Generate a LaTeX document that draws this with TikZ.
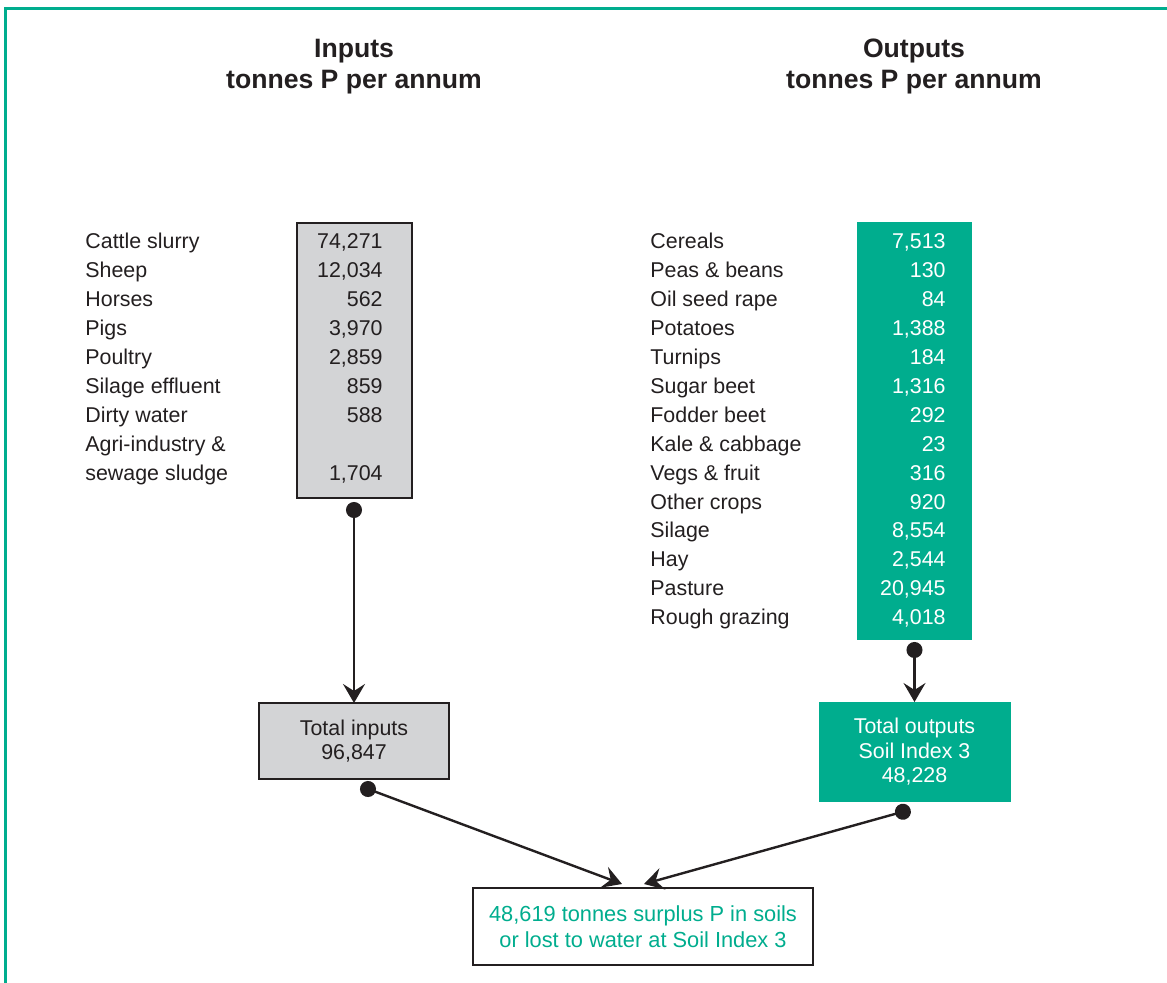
\documentclass[tikz,border=0pt]{standalone}
\usepackage{fontspec}
\setmainfont{Liberation Sans}
\usetikzlibrary{arrows.meta}
\definecolor{pgreen}{RGB}{0,173,142}
\definecolor{ink}{RGB}{35,31,32}
\definecolor{boxgray}{RGB}{211,212,214}
\tikzset{
  title/.style={anchor=base, inner sep=0pt, text=ink, font=\bfseries\fontsize{13.3}{15.5}\selectfont},
  lbl/.style={anchor=base west, inner sep=0pt, text=ink, font=\fontsize{10.7}{12}\selectfont},
  num/.style={anchor=base east, inner sep=0pt, text=ink, font=\fontsize{10.7}{12}\selectfont},
  wnum/.style={num, text=white},
  total/.style={align=center, inner sep=0pt, outer sep=0pt, font=\fontsize{10.7}{12.25}\selectfont},
  flow/.style={draw=ink, line width=1.2pt, {Circle[length=8pt]}-{Stealth[length=9.5pt,width=11pt,inset=3.5pt]}}
}
\begin{document}
\begin{tikzpicture}[x=0.5pt, y=-0.5pt]
\useasboundingbox (0,0) rectangle (1167,983);
\fill[white] (0,0) rectangle (1167,983);
\draw[pgreen, line width=1.35pt] (5.3,983) -- (5.3,8.7) -- (1167,8.7);

\node[title] (intitle) at (354,58) {Inputs};
\node[title] (inunit) at (354,89) {tonnes P per annum};
\node[title] (outtitle) at (914,58) {Outputs};
\node[title] (outunit) at (914,89) {tonnes P per annum};

\node[draw=ink, line width=1pt, fill=boxgray, outer sep=0pt, minimum width=57.5pt, minimum height=137.5pt] (inbox) at (354,360.5) {};
\node[fill=pgreen, outer sep=0pt, minimum width=57.5pt, minimum height=209pt] (outbox) at (914.5,431) {};

\node[lbl] (cattle) at (85,249) {Cattle slurry};
\node[lbl] (sheep) at (85,277.9) {Sheep};
\node[lbl] (horses) at (85,306.8) {Horses};
\node[lbl] (pigs) at (85,335.7) {Pigs};
\node[lbl] (poultry) at (85,364.6) {Poultry};
\node[lbl] (silage) at (85,393.5) {Silage effluent};
\node[lbl] (dirty) at (85,422.4) {Dirty water};
\node[lbl] (agri) at (85,451.3) {Agri-industry \&};
\node[lbl] (sewage) at (85,480.2) {sewage sludge};

\node[num] (ncattle) at (383,249) {74,271};
\node[num] (nsheep) at (383,277.9) {12,034};
\node[num] (nhorses) at (383,306.8) {562};
\node[num] (npigs) at (383,335.7) {3,970};
\node[num] (npoultry) at (383,364.6) {2,859};
\node[num] (nsilage) at (383,393.5) {859};
\node[num] (ndirty) at (383,422.4) {588};
\node[num] (nsewage) at (383,480.2) {1,704};

\node[lbl] (cereals) at (650,249) {Cereals};
\node[lbl] (peas) at (650,277.9) {Peas \& beans};
\node[lbl] (oilseed) at (650,306.8) {Oil seed rape};
\node[lbl] (potatoes) at (650,335.7) {Potatoes};
\node[lbl] (turnips) at (650,364.6) {Turnips};
\node[lbl] (sugarbeet) at (650,393.5) {Sugar beet};
\node[lbl] (fodder) at (650,422.4) {Fodder beet};
\node[lbl] (kale) at (650,451.3) {Kale \& cabbage};
\node[lbl] (vegs) at (650,480.2) {Vegs \& fruit};
\node[lbl] (other) at (650,509.1) {Other crops};
\node[lbl] (silagecrop) at (650,538) {Silage};
\node[lbl] (hay) at (650,566.9) {Hay};
\node[lbl] (pasture) at (650,595.8) {Pasture};
\node[lbl] (rough) at (650,624.7) {Rough grazing};

\node[wnum] (ncereals) at (946,249) {7,513};
\node[wnum] (npeas) at (946,277.9) {130};
\node[wnum] (noilseed) at (946,306.8) {84};
\node[wnum] (npotatoes) at (946,335.7) {1,388};
\node[wnum] (nturnips) at (946,364.6) {184};
\node[wnum] (nsugarbeet) at (946,393.5) {1,316};
\node[wnum] (nfodder) at (946,422.4) {292};
\node[wnum] (nkale) at (946,451.3) {23};
\node[wnum] (nvegs) at (946,480.2) {316};
\node[wnum] (nother) at (946,509.1) {920};
\node[wnum] (nsilagecrop) at (946,538) {8,554};
\node[wnum] (nhay) at (946,566.9) {2,544};
\node[wnum] (npasture) at (946,595.8) {20,945};
\node[wnum] (nrough) at (946,624.7) {4,018};

\node[total, draw=ink, line width=1pt, fill=boxgray, text=ink, minimum width=95pt, minimum height=38pt] (tin) at (354,741) {Total inputs\\96,847};
\node[total, fill=pgreen, text=white, minimum width=96pt, minimum height=50pt] (tout) at (914.5,752) {Total outputs\\Soil Index 3\\48,228};
\node[total, draw=ink, line width=1pt, fill=white, text=pgreen, minimum width=170pt, minimum height=38.5pt, font=\fontsize{10.9}{12.8}\selectfont] (surplus) at (643,926.5) {48,619 tonnes surplus P in soils\\or lost to water at Soil Index 3};

\path[flow, shorten <=2pt] (inbox.south) -- (tin.north);
\path[flow, shorten <=1pt] (outbox.south) -- (tout.north);
\path[flow] ([xshift=3.25pt,yshift=-3.6pt]tin.south) -- ([xshift=-10.5pt,yshift=2pt]surplus.north);
\path[flow] ([xshift=-1.95pt,yshift=-3.8pt]tout.south) -- ([xshift=0.5pt,yshift=2pt]surplus.north);
\end{tikzpicture}
\end{document}
